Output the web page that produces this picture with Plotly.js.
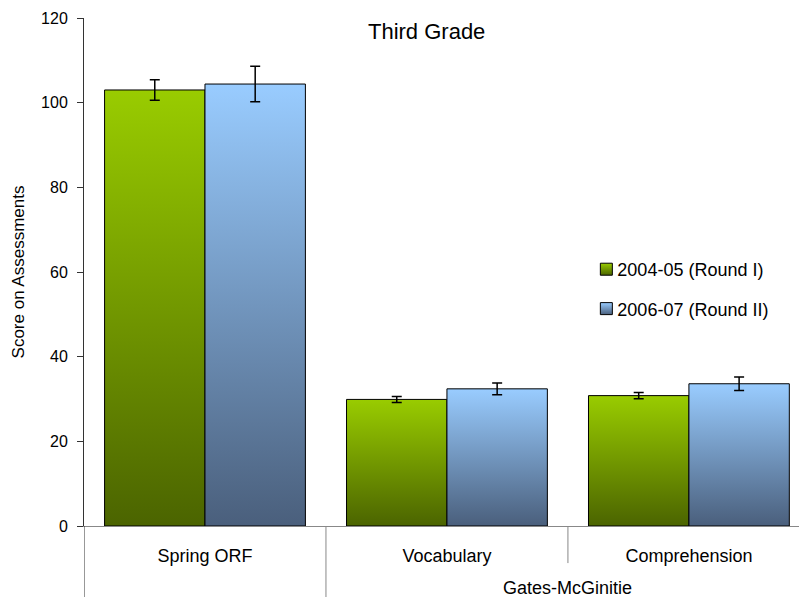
<!DOCTYPE html>
<html>
<head>
<meta charset="utf-8">
<script src="https://cdn.plot.ly/plotly-3.0.1.min.js"></script>
<style>html,body{margin:0;padding:0;overflow:hidden;background:#fff}</style>
</head>
<body>
<div id="chart" style="width:799px;height:597px"></div>
<script>
const categories = ["Spring ORF", "Vocabulary", "Comprehension"];
const groupLabel = "Gates-McGinitie";
const seriesNames = ["2004-05 (Round I)", "2006-07 (Round II)"];
const round1 = [103.0, 29.9, 30.8];
const round1Err = [2.4, 0.7, 0.75];
const round2 = [104.4, 32.4, 33.6];
const round2Err = [4.2, 1.4, 1.6];
const yTicks = [0, 20, 40, 60, 80, 100, 120];

const FONT = "Liberation Sans, Arial, sans-serif";
const gradStops = [["#99CC00", "#4B6400"], ["#99CCFF", "#4A5F7C"]];

function barTrace(name, vals, errs, col, group) {
  return {
    type: "bar", name: name, x: categories, y: vals, legendgroup: group,
    marker: {color: col, line: {color: "#000", width: 1}},
    error_y: {type: "data", array: errs, visible: true, color: "#000", thickness: 1.5, width: 5}
  };
}

const data = [
  barTrace(seriesNames[0], round1, round1Err, "#99CC00", "a"),
  barTrace(seriesNames[1], round2, round2Err, "#99CCFF", "b")
];

const layout = {
  width: 799, height: 597,
  margin: {l: 84, r: 0, t: 18, b: 71},
  paper_bgcolor: "#fff", plot_bgcolor: "#fff",
  font: {family: FONT, color: "#000", size: 17},
  barmode: "group", bargap: 0.17, bargroupgap: 0,
  title: {text: "Third Grade", font: {size: 22, family: FONT}, x: 0.534, xref: "container", y: 0.948, yanchor: "middle", xanchor: "center"},
  showlegend: true,
  legend: {x: 0.69, y: 0.4665, xanchor: "left", yanchor: "middle", font: {size: 18}, tracegroupgap: 13, bgcolor: "rgba(0,0,0,0)"},
  xaxis: {
    type: "category", range: [-0.5, 2.455], showgrid: false, zeroline: false,
    showline: true, linecolor: "#888", linewidth: 1, ticks: "", ticklabelstandoff: 13,
    tickfont: {size: 18}, fixedrange: true
  },
  yaxis: {
    range: [0, 120], tickvals: yTicks, showgrid: false, zeroline: false,
    showline: true, linecolor: "#333", linewidth: 1, ticks: "outside", ticklen: 6, tickcolor: "#333",
    tickfont: {size: 16}, ticklabelstandoff: 6,
    title: {text: "Score on Assessments", font: {size: 17}, standoff: 12}, fixedrange: true
  },
  shapes: [
    {type: "line", xref: "x", yref: "paper", x0: -0.5, x1: -0.5, y0: 0, y1: -0.15, line: {color: "#333", width: 1}},
    {type: "line", xref: "x", yref: "paper", x0: 0.5, x1: 0.5, y0: 0, y1: -0.15, line: {color: "#888", width: 1}},
    {type: "line", xref: "x", yref: "paper", x0: 1.5, x1: 1.5, y0: 0, y1: -0.073, line: {color: "#888", width: 1}}
  ],
  annotations: [
    {text: groupLabel, xref: "x", yref: "paper", x: 1.5, y: -0.122, showarrow: false, yanchor: "middle", font: {size: 18}}
  ]
};

Plotly.newPlot("chart", data, layout, {displayModeBar: false, staticPlot: true}).then(function (gd) {
  const svg = gd.querySelector("svg.main-svg");
  let defs = svg.querySelector("defs");
  const NS = "http://www.w3.org/2000/svg";
  gradStops.forEach(function (st, i) {
    const lg = document.createElementNS(NS, "linearGradient");
    lg.setAttribute("id", "barGrad" + i);
    lg.setAttribute("x1", "0"); lg.setAttribute("y1", "0");
    lg.setAttribute("x2", "0"); lg.setAttribute("y2", "1");
    [[0, st[0]], [1, st[1]]].forEach(function (s) {
      const stop = document.createElementNS(NS, "stop");
      stop.setAttribute("offset", s[0]);
      stop.setAttribute("stop-color", s[1]);
      lg.appendChild(stop);
    });
    defs.appendChild(lg);
  });
  gd.querySelectorAll(".barlayer .trace.bars").forEach(function (tr, i) {
    tr.querySelectorAll("path").forEach(function (p) { p.style.fill = "url(#barGrad" + i + ")"; });
  });
  gd.querySelectorAll(".legend .traces").forEach(function (tr, i) {
    tr.querySelectorAll(".legendpoints path").forEach(function (p) { p.style.fill = "url(#barGrad" + i + ")"; });
    const lp = tr.querySelector(".legendpoints");
    if (lp) lp.setAttribute("transform", "translate(9,0)");
  });
});
</script>
</body>
</html>
